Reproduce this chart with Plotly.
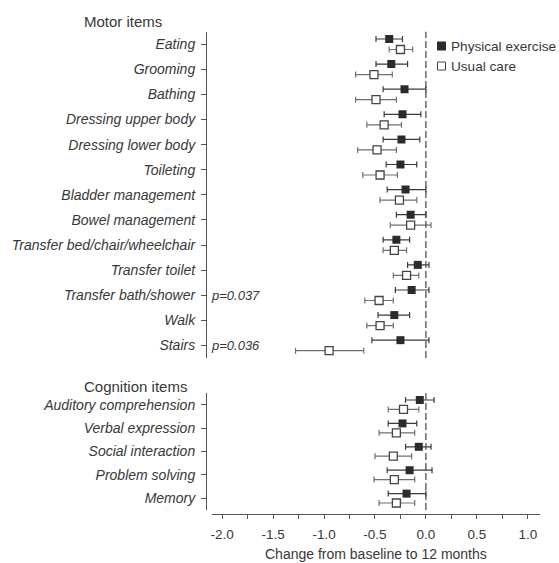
import plotly.graph_objects as go

W, H = 559, 563

# ---------------- data ----------------
motor_items = ["Eating", "Grooming", "Bathing", "Dressing upper body", "Dressing lower body",
               "Toileting", "Bladder management", "Bowel management",
               "Transfer bed/chair/wheelchair", "Transfer toilet", "Transfer bath/shower",
               "Walk", "Stairs"]
motor_pe_mean = [-0.36, -0.34, -0.21, -0.23, -0.24, -0.25, -0.20, -0.15, -0.29, -0.08, -0.14, -0.31, -0.25]
motor_pe_lo   = [-0.49, -0.49, -0.42, -0.41, -0.42, -0.39, -0.38, -0.29, -0.42, -0.18, -0.30, -0.47, -0.53]
motor_pe_hi   = [-0.23, -0.18,  0.00, -0.05, -0.06, -0.09,  0.00,  0.00, -0.16,  0.03,  0.03, -0.16,  0.03]
motor_uc_mean = [-0.25, -0.51, -0.49, -0.41, -0.48, -0.45, -0.26, -0.15, -0.31, -0.19, -0.46, -0.45, -0.95]
motor_uc_lo   = [-0.36, -0.69, -0.69, -0.58, -0.67, -0.62, -0.45, -0.35, -0.42, -0.32, -0.60, -0.58, -1.28]
motor_uc_hi   = [-0.13, -0.33, -0.29, -0.24, -0.29, -0.28, -0.09,  0.05, -0.19, -0.07, -0.32, -0.32, -0.61]
motor_pvalues = {"Transfer bath/shower": "p=0.037", "Stairs": "p=0.036"}

cog_items = ["Auditory comprehension", "Verbal expression", "Social interaction",
             "Problem solving", "Memory"]
cog_pe_mean = [-0.06, -0.23, -0.07, -0.16, -0.19]
cog_pe_lo   = [-0.20, -0.37, -0.20, -0.38, -0.37]
cog_pe_hi   = [ 0.08, -0.09,  0.05,  0.06,  0.00]
cog_uc_mean = [-0.22, -0.29, -0.32, -0.31, -0.29]
cog_uc_lo   = [-0.37, -0.46, -0.50, -0.51, -0.46]
cog_uc_hi   = [-0.07, -0.11, -0.14, -0.11, -0.11]

x_ticks = [-2.0, -1.5, -1.0, -0.5, 0.0, 0.5, 1.0]
x_title = "Change from baseline to 12 months"
series_names = ["Physical exercise", "Usual care"]

# ---------------- styling ----------------
FONT = "Liberation Sans, Arial, sans-serif"
TXT = "#383838"
AX = "#555555"
PE_COL = "#2b2b2b"
PE_ERR = "#3a3a3a"
UC_ERR = "#707070"

def px_x(p):
    return p / W

def px_y(p):
    return 1 - p / H

fig = go.Figure()

def add_group(items, pe_m, pe_lo, pe_hi, uc_m, uc_lo, uc_hi, yaxis, off):
    idx = list(range(len(items)))
    fig.add_trace(go.Scatter(
        x=pe_m, y=[i - off for i in idx], xaxis="x", yaxis=yaxis, mode="markers",
        marker=dict(symbol="square", size=8, color=PE_COL, line=dict(width=0)),
        error_x=dict(type="data", symmetric=False,
                     array=[h - m for h, m in zip(pe_hi, pe_m)],
                     arrayminus=[m - l for m, l in zip(pe_m, pe_lo)],
                     color=PE_ERR, thickness=1.2, width=3),
        showlegend=False, name=series_names[0]))
    fig.add_trace(go.Scatter(
        x=uc_m, y=[i + off for i in idx], xaxis="x", yaxis=yaxis, mode="markers",
        marker=dict(symbol="square", size=8, color="white", line=dict(width=1.3, color="#444444")),
        error_x=dict(type="data", symmetric=False,
                     array=[h - m for h, m in zip(uc_hi, uc_m)],
                     arrayminus=[m - l for m, l in zip(uc_m, uc_lo)],
                     color=UC_ERR, thickness=1.2, width=3),
        showlegend=False, name=series_names[1]))

add_group(motor_items, motor_pe_mean, motor_pe_lo, motor_pe_hi,
          motor_uc_mean, motor_uc_lo, motor_uc_hi, "y", 0.21)
add_group(cog_items, cog_pe_mean, cog_pe_lo, cog_pe_hi,
          cog_uc_mean, cog_uc_lo, cog_uc_hi, "y2", 0.2)

yax_common = dict(
    anchor="free", position=px_x(206), showline=True, linecolor=AX, linewidth=1,
    ticks="outside", ticklen=5, tickcolor=AX, showgrid=False, zeroline=False,
    tickfont=dict(family=FONT, size=14, color=TXT), automargin=False,
    ticklabelstandoff=3,
)

fig.update_layout(
    width=W, height=H, margin=dict(l=0, r=0, t=0, b=0),
    paper_bgcolor="white", plot_bgcolor="white",
    xaxis=dict(domain=[px_x(212), px_x(540)], anchor="free", position=px_y(514),
               range=[-2.1, 1.12], showline=True, linecolor=AX, linewidth=1,
               tickvals=x_ticks, ticktext=[f"{v:.1f}" for v in x_ticks],
               ticks="outside", ticklen=4, tickcolor=AX,
               minor=dict(dtick=0.25, tick0=-2.0, ticks="outside", ticklen=4, tickcolor=AX, showgrid=False),
               showgrid=False, zeroline=False, automargin=False, ticklabelstandoff=4,
               tickfont=dict(family=FONT, size=13.5, color=TXT)),
    yaxis=dict(domain=[px_y(358), px_y(31.7)], range=[12.5, -0.5],
               tickvals=list(range(len(motor_items))),
               ticktext=[f"<i>{t}</i>" for t in motor_items], **yax_common),
    yaxis2=dict(domain=[px_y(510), px_y(393)], range=[4.5, -0.5],
                tickvals=list(range(len(cog_items))),
                ticktext=[f"<i>{t}</i>" for t in cog_items], **yax_common),
)

# dashed zero lines
for yr in ["y domain", "y2 domain"]:
    fig.add_shape(type="line", xref="x", yref=yr, x0=0, x1=0, y0=0, y1=1,
                  line=dict(color="#444444", width=1.2, dash="7px,3px"))

# section titles
fig.add_annotation(text="Motor items", xref="paper", yref="paper", x=px_x(82), y=px_y(22),
                   xanchor="left", yanchor="middle", showarrow=False,
                   font=dict(family=FONT, size=15, color=TXT))
fig.add_annotation(text="Cognition items", xref="paper", yref="paper", x=px_x(82), y=px_y(386),
                   xanchor="left", yanchor="middle", showarrow=False,
                   font=dict(family=FONT, size=15, color=TXT))

# p-values
for item, ptxt in motor_pvalues.items():
    fig.add_annotation(text=f"<i>{ptxt}</i>", xref="paper", yref="y",
                       x=px_x(209), y=motor_items.index(item), xanchor="left", yanchor="middle",
                       showarrow=False, font=dict(family=FONT, size=13, color=TXT))

# legend (drawn manually)
fig.add_shape(type="rect", xref="paper", yref="paper",
              x0=px_x(437), x1=px_x(446), y0=px_y(50.5), y1=px_y(41.5),
              fillcolor=PE_COL, line=dict(width=0))
fig.add_shape(type="rect", xref="paper", yref="paper",
              x0=px_x(437.5), x1=px_x(445.5), y0=px_y(70), y1=px_y(62),
              fillcolor="white", line=dict(width=1, color="#444444"))
fig.add_annotation(text=series_names[0], xref="paper", yref="paper", x=px_x(449), y=px_y(46),
                   xanchor="left", yanchor="middle", showarrow=False,
                   font=dict(family=FONT, size=13.6, color=TXT))
fig.add_annotation(text=series_names[1], xref="paper", yref="paper", x=px_x(449), y=px_y(66),
                   xanchor="left", yanchor="middle", showarrow=False,
                   font=dict(family=FONT, size=13.6, color=TXT))

# x-axis title
fig.add_annotation(text=x_title, xref="paper", yref="paper", x=px_x(376), y=px_y(554),
                   xanchor="center", yanchor="middle", showarrow=False,
                   font=dict(family=FONT, size=14, color=TXT))

fig.write_html("out.html")
